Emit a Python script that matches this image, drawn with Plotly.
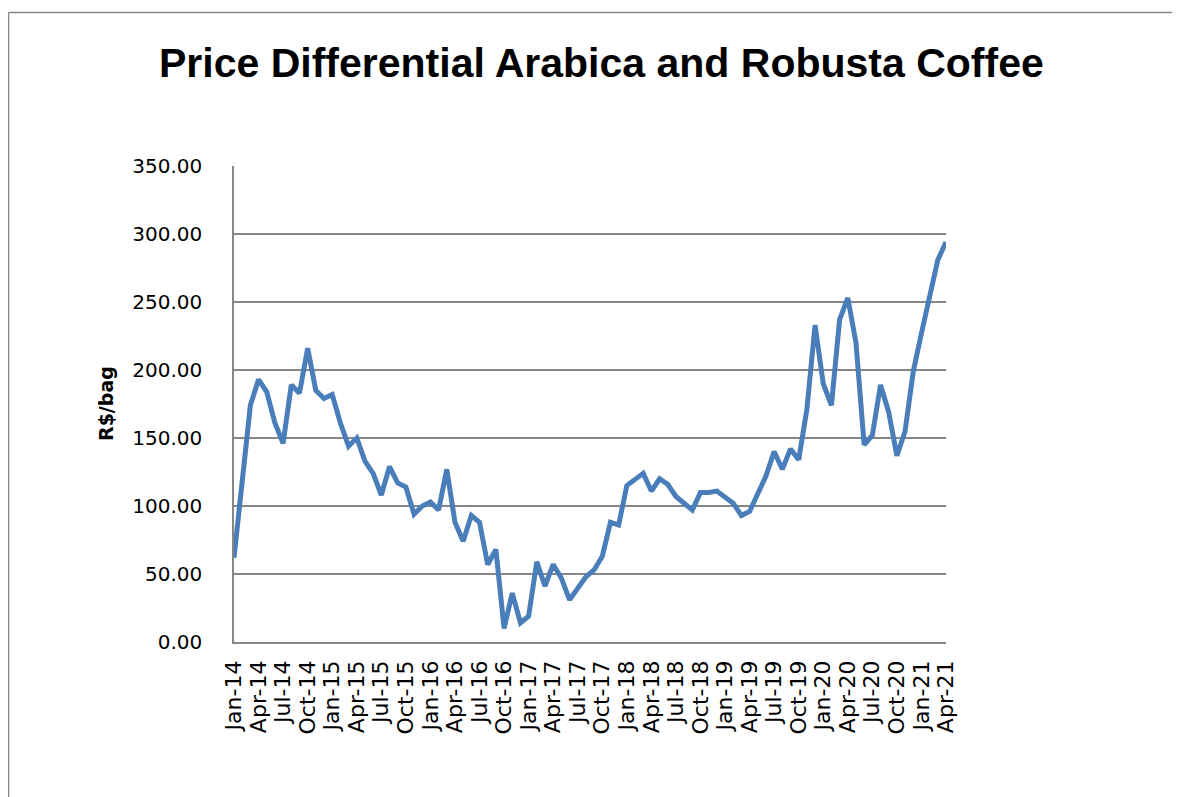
import plotly.graph_objects as go

# ---- data ----
month_names = ["Jan", "Feb", "Mar", "Apr", "May", "Jun", "Jul", "Aug", "Sep", "Oct", "Nov", "Dec"]
years = ["14", "15", "16", "17", "18", "19", "20", "21"]
categories = [f"{m}-{y}" for y in years for m in month_names][:88]  # Jan-14 .. Apr-21

price_diff = [
    62, 120, 174, 193, 184, 161, 146, 189, 183, 216, 185, 179,   # 2014
    182, 161, 144, 150, 133, 124, 108, 129, 117, 114, 94, 100,    # 2015
    103, 97, 127, 88, 74, 93, 88, 57, 68, 10, 36, 14,             # 2016
    19, 59, 41, 57, 47, 31, 40, 48, 53, 63, 88, 86,               # 2017
    115, 119, 124, 111, 120, 116, 107, 102, 97, 110, 110, 111,    # 2018
    107, 102, 93, 96, 109, 122, 140, 127, 142, 134, 171, 233,     # 2019
    190, 174, 237, 253, 220, 145, 152, 189, 169, 137, 155, 199,   # 2020
    227, 256, 281, 294,                                           # 2021
]

tick_every = 3
tick_idx = list(range(0, len(categories), tick_every))
tick_text = [categories[i] for i in tick_idx]

title_text = "Price Differential Arabica and Robusta Coffee"
y_title = "R$/bag"

GRID = "#868686"
LINE = "#4a7ebb"

fig = go.Figure()
fig.add_trace(go.Scatter(
    x=list(range(len(price_diff))), y=price_diff, mode="lines",
    line=dict(color=LINE, width=5), hoverinfo="skip", showlegend=False,
))

# page has an 8px body margin; work in figure coordinates (page - 8)
OFF = 8
W, H = 1180 - OFF, 797 - OFF
L, T = 234 - OFF, 166 - OFF
R = W - (946 - OFF)
B = H - (642 - OFF)
pw, ph = W - L - R, H - T - B

def px(xp):
    return (xp - OFF - L) / pw

def py(yp):
    return (H - B - (yp - OFF)) / ph

fig.update_layout(
    width=W, height=H,
    margin=dict(l=L, r=R, t=T, b=B, autoexpand=False),
    paper_bgcolor="white", plot_bgcolor="white",
    font=dict(family="DejaVu Sans", color="black"),
    showlegend=False,
)
fig.update_xaxes(
    range=[0, len(price_diff) - 1],
    tickmode="array", tickvals=tick_idx, ticktext=tick_text,
    tickangle=-90, tickfont=dict(size=22, family="DejaVu Sans", color="black"),
    showgrid=False, zeroline=False,
    showline=True, linecolor=GRID, linewidth=1.5,
    ticks="", ticklabelstandoff=8, automargin=False,
)
fig.update_yaxes(
    range=[0, 350], dtick=50, tick0=0, tickformat=".2f",
    tickfont=dict(size=20, family="DejaVu Sans", color="black"),
    showgrid=True, gridcolor=GRID, gridwidth=1.5,
    zeroline=False, showline=True, linecolor=GRID, linewidth=1.5,
    ticks="", ticklabelstandoff=26, automargin=False,
)

# chart title
fig.add_annotation(
    text=f"<b>{title_text}</b>", xref="paper", yref="paper",
    x=px(601), y=py(63), xanchor="center", yanchor="middle",
    showarrow=False, font=dict(size=41, family="Liberation Sans", color="black"),
)
# y-axis title
fig.add_annotation(
    text=f"<b>{y_title}</b>", xref="paper", yref="paper",
    x=px(106), y=py(404), xanchor="center", yanchor="middle",
    textangle=-90, showarrow=False,
    font=dict(size=19, family="DejaVu Sans", color="black"),
)

# outer chart border (top and left visible)
bx0 = px(8.5)
by_top = py(12.5)
fig.add_shape(type="line", xref="paper", yref="paper",
              x0=bx0, x1=px(1200), y0=by_top, y1=by_top,
              line=dict(color=GRID, width=1.5))
fig.add_shape(type="line", xref="paper", yref="paper",
              x0=bx0, x1=bx0, y0=by_top, y1=py(820),
              line=dict(color=GRID, width=1.5))

fig.write_html("out.html")
